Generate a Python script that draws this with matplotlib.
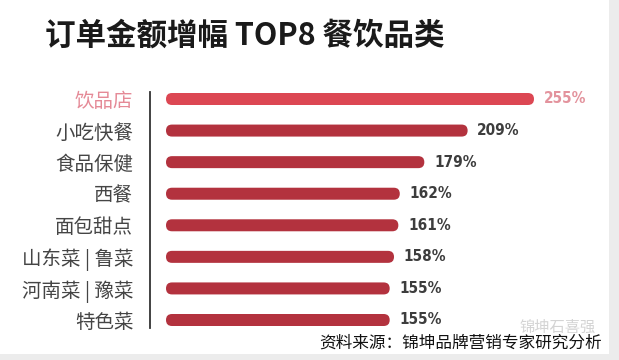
import matplotlib
matplotlib.use("Agg")
import matplotlib.pyplot as plt
from matplotlib.patches import FancyBboxPatch, Rectangle

categories = ["饮品店", "小吃快餐", "食品保健", "西餐", "面包甜点", "山东菜 | 鲁菜", "河南菜 | 豫菜", "特色菜"]
values = [255, 209, 179, 162, 161, 158, 155, 155]
value_labels = ["255%", "209%", "179%", "162%", "161%", "158%", "155%", "155%"]
title = "订单金额增幅 TOP8 餐饮品类"
source = "资料来源：锦坤品牌营销专家研究分析"
watermark = "锦坤石喜强"

plt.rcParams['font.family'] = ['Noto Sans CJK SC', 'DejaVu Sans']

W, H = 619, 360
fig = plt.figure(figsize=(W / 100, H / 100), dpi=100)
fig.patch.set_facecolor("white")

ax_left, ax_right, ax_top, ax_bottom = 150, 610, 92, 328
ax = fig.add_axes([ax_left / W, 1 - ax_bottom / H, (ax_right - ax_left) / W, (ax_bottom - ax_top) / H])
ax.set_facecolor("none")

px_per_x = 368 / 255.0
x0 = -16 / px_per_x
x1 = x0 + (ax_right - ax_left) / px_per_x
ax.set_xlim(x0, x1)
row_px = (320 - 99) / 7.0
y_top = -(99 - ax_top) / row_px
y_bot = 7 + (ax_bottom - 320) / row_px
ax.set_ylim(y_bot, y_top)
px_per_y = row_px

bar_h = 12 / px_per_y
r = 6 / px_per_x
ma = px_per_x / px_per_y
bar_colors = ["#dc4753"] + ["#b3323e"] * 7
for i, v in enumerate(values):
    p = FancyBboxPatch((0, i - bar_h / 2), v, bar_h,
                       boxstyle=f"round,pad=0,rounding_size={r}",
                       mutation_aspect=ma, facecolor=bar_colors[i], edgecolor="none")
    ax.add_patch(p)
    ax.annotate(value_labels[i], xy=(v, i), xytext=(7, 0), textcoords="offset points",
                va="center", ha="left", fontsize=11, fontweight="bold",
                family=["DejaVu Sans"], fontstretch="condensed",
                color="#e3939d" if i == 0 else "#3d3d3d")

ax.set_yticks(range(len(categories)))
ax.set_yticklabels(categories, fontsize=14)
for i, t in enumerate(ax.get_yticklabels()):
    t.set_color("#e58a97" if i == 0 else "#454545")
ax.tick_params(axis="y", length=0, pad=12)
ax.set_xticks([])
for s in ["top", "right", "bottom"]:
    ax.spines[s].set_visible(False)
ax.spines["left"].set_color("#333333")
ax.spines["left"].set_linewidth(1.3)

fig.text(45 / W, 1 - 36 / H, title, fontsize=22, fontweight="bold", color="#1a1a1a",
         ha="left", va="center")
fig.text(520 / W, 1 - 327 / H, watermark, fontsize=11, color="#d4d4d4", ha="left", va="center")
fig.text(602 / W, 1 - 343 / H, source, fontsize=12, color="#111111", ha="right", va="center")

fig.add_artist(Rectangle((609 / W, 0), 10 / W, 1, transform=fig.transFigure,
                         facecolor="#ececec", edgecolor="none", zorder=-1))
fig.add_artist(Rectangle((0, 0), 1, 6 / H, transform=fig.transFigure,
                         facecolor="#ececec", edgecolor="none", zorder=-1))

fig.savefig("out.png", dpi=100)
